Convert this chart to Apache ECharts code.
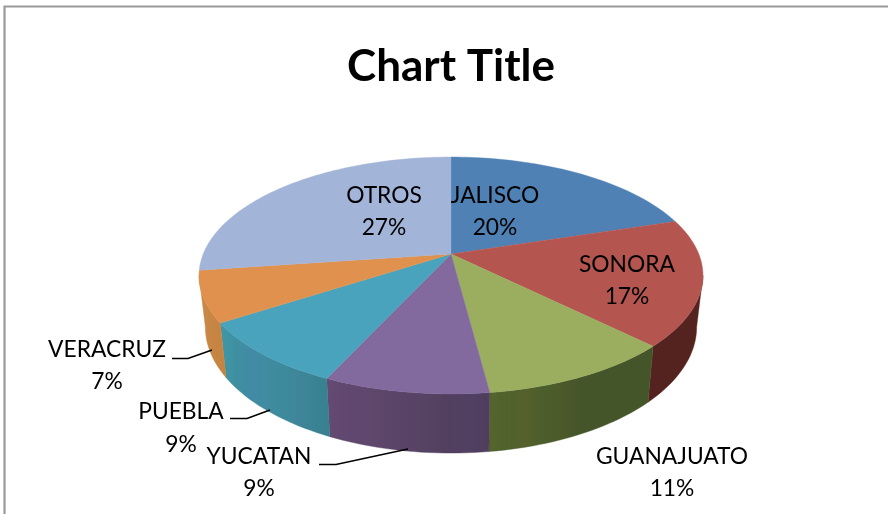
<!DOCTYPE html>
<html>
<head>
<meta charset="utf-8">
<style>html,body{margin:0;padding:0;background:#fff}#c{width:888px;height:514px}</style>
<script src="https://cdn.jsdelivr.net/npm/echarts@6/dist/echarts.min.js"></script>
</head>
<body>
<div id="c"></div>
<script>
const categories = ['JALISCO','SONORA','GUANAJUATO','YUCATAN','PUEBLA','VERACRUZ','OTROS'];
const shares = [20.15,17.25,10.55,8.93,8.97,6.95,27.2];

const topColors = ['#4f81b5','#b45550','#9bae60','#826a9f','#4aa3bc','#e0914d','#a2b4d7'];
const wallColors = [
  ['#4f81b5'],
  ['#55231f','#55231f','#54231f','#55231f'],
  ['#55652c','#4f622d','#55602c','#4a5e2b','#4c5a2a','#44552a','#44552a','#44552a','#44552a','#44552a'],
  ['#654a72','#5f4770','#5f476c','#5a4468','#574364','#533f60','#514062','#4e3d5c'],
  ['#4098a6','#3e90a0','#428aa6','#3f8ca0','#3c8a9c','#40859a','#3a8394','#388090'],
  ['#c98a48','#c98745','#c68442','#c58240']
];
// label layout: centre x, first-line centre y, second-line centre y
const labelLayout = [[495,196,228],[627,265,297],[672,457,489],[259,457,489],[181,412,445],[107,350,382],[384,196,228]];
const leaderLayout = [
  null,null,null,
  [[319,464.5],[336,464.5],[408,449]],
  [[230,418.5],[247,418.5],[270,410]],
  [[172,358.5],[188,358.5],[212,350]],
  null
];

// perspective of the pie's top disc
const cx=451, apexY=254, k=247.8, persp=-0.1814, ya=68.5;
const wallFrom=100.4, wallTo=259.6;
const total=shares.reduce((a,b)=>a+b,0);
const starts=[]; shares.reduce((a,b,i)=>{starts[i]=a;return a+b;},0);
const deg=i=>[starts[i]/total*360,(starts[i]+shares[i])/total*360];
function topPoint(d){
  const t=d*Math.PI/180,u=Math.sin(t),v=-Math.cos(t),w=1+persp*v;
  return [cx+k*u/w,(ya*v+apexY)/w];
}
function basePoint(d){
  const p=topPoint(d);
  return [cx+(p[0]-cx)*0.975,(p[1]-apexY)*1.065+apexY+50];
}
function arc(a,b,fn){
  const n=Math.max(2,Math.ceil(Math.abs(b-a)/1.5)),r=[];
  for(let i=0;i<=n;i++) r.push(fn(a+(b-a)*i/n));
  return r;
}
const idx=categories.map((_,i)=>i);

const option={
  backgroundColor:'#ffffff',
  animation:false,
  title:{text:'Chart Title',left:451,top:45,padding:0,textAlign:'center',
    textStyle:{fontFamily:'Lato',fontSize:44,fontWeight:'bold',color:'#000'}},
  graphic:[{type:'polyline',silent:true,shape:{points:[[4.5,520],[4.5,6.5],[895,6.5]]},
    style:{stroke:'#9a9a9a',fill:null,lineWidth:2.2}}],
  series:[
    {type:'custom',coordinateSystem:'none',silent:true,z:2,data:idx,
     renderItem(params){
       const i=params.dataIndex;
       if(i>=wallColors.length) return {type:'group',children:[]};
       const [a0,b0]=deg(i),a=Math.max(a0,wallFrom),b=Math.min(b0,wallTo);
       if(b<=a) return {type:'group',children:[]};
       const pts=arc(a,b,topPoint).concat(arc(a,b,basePoint).reverse());
       const cs=wallColors[i];
       const stops=cs.map((c,j)=>({offset:cs.length>1?j/(cs.length-1):0,color:c}));
       const fill=new echarts.graphic.LinearGradient(0,0,1,0,stops);
       return {type:'polygon',shape:{points:pts},style:{fill,stroke:cs[cs.length-1],lineWidth:0.4}};
     }},
    {type:'custom',coordinateSystem:'none',silent:true,z:3,data:idx,
     renderItem(params){
       const i=params.dataIndex,[a,b]=deg(i);
       const pts=[[cx,apexY]].concat(arc(a,b,topPoint));
       return {type:'polygon',shape:{points:pts},
         style:{fill:topColors[i],stroke:topColors[i],lineWidth:0.4}};
     }},
    {type:'custom',coordinateSystem:'none',silent:true,z:4,data:idx,
     renderItem(params){
       const i=params.dataIndex,l=labelLayout[i],kids=[];
       const font='22.8px Lato';
       [categories[i],Math.round(shares[i])+'%'].forEach((t,j)=>kids.push({type:'text',
         style:{text:t,x:l[0],y:l[j+1],align:'center',verticalAlign:'middle',font,fill:'#000'}}));
       if(leaderLayout[i]) kids.push({type:'polyline',shape:{points:leaderLayout[i]},
         style:{stroke:'#000',fill:null,lineWidth:1.6}});
       return {type:'group',children:kids};
     }}
  ]
};
const chart=echarts.init(document.getElementById('c'),null,{renderer:'canvas'});
chart.setOption(option);
</script>
</body>
</html>
